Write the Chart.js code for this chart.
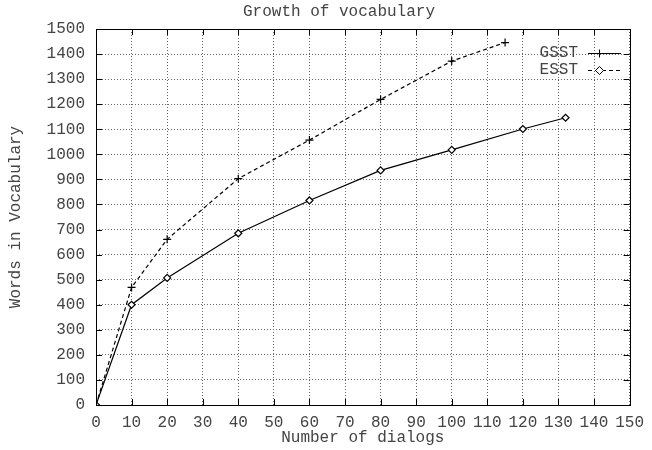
<!DOCTYPE html>
<html>
<head>
<meta charset="utf-8">
<script src="https://cdn.jsdelivr.net/npm/chart.js@4"></script>
<style>
  body { margin: 0; background: #fff; }
  #wrap { width: 652px; height: 450px; }
</style>
</head>
<body>
<div id="wrap"><canvas id="myChart" width="652" height="450"></canvas></div>
<script>
const ctx = document.querySelector("#myChart").getContext("2d")

const gsstDialogs = [0, 10, 20, 40, 60, 80, 100, 120, 132]
const gsstWords = [0, 400, 507, 685, 816, 936, 1018, 1101, 1146]
const esstDialogs = [0, 10, 20, 40, 60, 80, 100, 115]
const esstWords = [0, 469, 661, 903, 1057, 1219, 1372, 1446]

const FONT = "'Liberation Mono', 'DejaVu Sans Mono', monospace"
const TXT = "#444"

// gnuplot look: frame, inward ticks, titles and the (swapped) key
const gnuplotBits = {
    id: "gnuplotBits",
    afterDraw(chart) {
        const c = chart.ctx
        const a = chart.chartArea
        const xs = chart.scales.x
        const ys = chart.scales.y
        c.save()
        c.strokeStyle = "#000"
        c.lineWidth = 1
        c.setLineDash([])
        c.beginPath()
        xs.ticks.forEach(t => {
            const px = Math.round(xs.getPixelForValue(t.value)) + 0.5
            c.moveTo(px, a.bottom); c.lineTo(px, a.bottom - 6)
            c.moveTo(px, a.top); c.lineTo(px, a.top + 6)
        })
        ys.ticks.forEach(t => {
            const py = Math.round(ys.getPixelForValue(t.value)) + 0.5
            c.moveTo(a.left, py); c.lineTo(a.left + 6, py)
            c.moveTo(a.right, py); c.lineTo(a.right - 6, py)
        })
        c.stroke()
        c.strokeRect(Math.round(a.left) + 0.5, Math.round(a.top) + 0.5,
            Math.round(a.right - a.left), Math.round(a.bottom - a.top))

        c.fillStyle = TXT
        c.font = "16px " + FONT
        c.textAlign = "center"
        c.textBaseline = "middle"
        c.fillText("Growth of vocabulary", 339, 12)
        c.fillText("Number of dialogs", (a.left + a.right) / 2, 438)
        c.save()
        c.translate(16, (a.top + a.bottom) / 2)
        c.rotate(-Math.PI / 2)
        c.fillText("Words in Vocabulary", 0, 0)
        c.restore()

        // key
        c.textAlign = "right"
        c.fillText("GSST", 578, 53)
        c.fillText("ESST", 578, 70)
        c.beginPath()
        c.moveTo(588, 53.5); c.lineTo(621, 53.5)
        c.moveTo(599.5, 49.5); c.lineTo(599.5, 57.5)
        c.moveTo(595.5, 53.5); c.lineTo(603.5, 53.5)
        c.stroke()
        c.setLineDash([4, 3])
        c.beginPath()
        c.moveTo(588, 70.5); c.lineTo(621, 70.5)
        c.stroke()
        c.setLineDash([])
        c.fillStyle = "#fff"
        c.beginPath()
        c.moveTo(599.5, 66.5); c.lineTo(603.5, 70.5); c.lineTo(599.5, 74.5); c.lineTo(595.5, 70.5)
        c.closePath()
        c.fill(); c.stroke()
        c.restore()
    }
}

const chart = new Chart(ctx, {
    type: "line",
    data: {
        datasets: [{
            label: "GSST",
            data: gsstDialogs.map((d, i) => ({ x: d, y: gsstWords[i] })),
            borderColor: "#000",
            borderWidth: 1.2,
            pointStyle: "rectRot",
            pointRadius: 3.5,
            pointBorderColor: "#000",
            pointBackgroundColor: "#fff",
            pointBorderWidth: 1.2,
            tension: 0
        }, {
            label: "ESST",
            data: esstDialogs.map((d, i) => ({ x: d, y: esstWords[i] })),
            borderColor: "#000",
            borderWidth: 1.2,
            borderDash: [4, 3],
            pointStyle: "cross",
            pointRadius: 4,
            pointBorderColor: "#000",
            pointBorderWidth: 1.2,
            tension: 0
        }]
    },
    options: {
        responsive: false,
        animation: false,
        layout: { padding: { top: 29, right: 18, left: 0, bottom: 0 } },
        plugins: {
            legend: { display: false },
            title: { display: false },
            tooltip: { enabled: false }
        },
        scales: {
            x: {
                type: "linear",
                min: 0,
                max: 150,
                afterFit: s => { s.height = 45 },
                ticks: { stepSize: 10, padding: 8, color: TXT, font: { family: FONT, size: 16 }, maxRotation: 0, autoSkip: false, callback: v => String(v) },
                grid: { color: "#666", drawTicks: false, lineWidth: 1 },
                border: { display: false, dash: [1, 2] }
            },
            y: {
                min: 0,
                max: 1500,
                afterFit: s => { s.width = 96 },
                ticks: { stepSize: 100, padding: 11, color: TXT, font: { family: FONT, size: 16 }, autoSkip: false, callback: v => String(v) },
                grid: { color: "#666", drawTicks: false, lineWidth: 1 },
                border: { display: false, dash: [1, 2] }
            }
        }
    },
    plugins: [gnuplotBits]
})
</script>
</body>
</html>
